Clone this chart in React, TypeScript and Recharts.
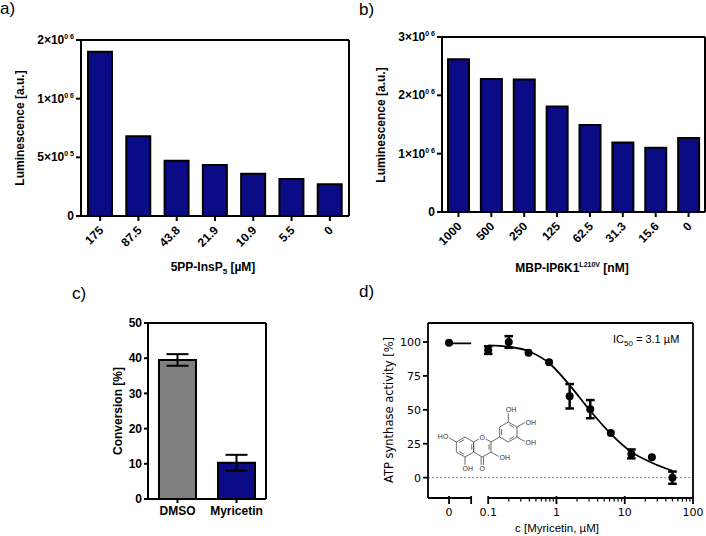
import React from "react";
import {
  Bar,
  BarChart,
  Cell,
  ComposedChart,
  ErrorBar,
  Line,
  ReferenceLine,
  Scatter,
  XAxis,
  YAxis,
} from "recharts";

// ---- panel a: 5PP-InsP5 titration
const concA = ["175", "87.5", "43.8", "21.9", "10.9", "5.5", "0"];
const lumA = [1.4e6, 6.8e5, 4.7e5, 4.35e5, 3.6e5, 3.15e5, 2.7e5];
const yTicksA = [0, 5e5, 1e6, 1.5e6];
const yLabelsA = [["0", ""], ["5×10", "0 5"], ["1×10", "0 6"], ["2×10", "0 6"]];

// ---- panel b: MBP-IP6K1 L210V titration
const concB = ["1000", "500", "250", "125", "62.5", "31.3", "15.6", "0"];
const lumB = [2.62e6, 2.28e6, 2.27e6, 1.81e6, 1.49e6, 1.19e6, 1.1e6, 1.27e6];
const yTicksB = [0, 1e6, 2e6, 3e6];
const yLabelsB = [["0", ""], ["1×10", "0 6"], ["2×10", "0 6"], ["3×10", "0 6"]];

// ---- panel c: conversion
const groupsC = ["DMSO", "Myricetin"];
const conversionC = [39.5, 10.3];
const conversionErrC = [1.65, 2.25];
const colorsC = ["#7f7f7f", "#0b0b85"];

// ---- panel d: dose response
const concD = [0, 0.1, 0.2, 0.39, 0.78, 1.56, 3.125, 6.25, 12.5, 25, 50];
const activityD = [99.5, 94, 100, 92, 85, 60, 50.5, 33, 17.5, 15, 0];
const activityErrD = [0, 2.8, 4.3, 0, 0, 9, 6.7, 0, 3.3, 0, 4.5];
const fitConcD = [0.1, 0.2, 0.4, 0.8, 1.6, 3.1, 6.2, 12.5, 25, 50];
const fitActivityD = [97.5, 96.5, 93, 84, 67.5, 49.5, 32.5, 19, 11, 5];
const topPlateauD = 99;
const majorTicksD = [0, 0.1, 1, 10, 100];
const minorTicksD = [0.2, 0.3, 0.4, 0.5, 0.6, 0.7, 0.8, 0.9, 2, 3, 4, 5, 6, 7, 8, 9, 20, 30, 40, 50, 60, 70, 80, 90];

const NAVY = "#0b0b85";
const BOLD = "'Liberation Sans', Arial, Helvetica, sans-serif";
const SANS = "'DejaVu Sans', Verdana, sans-serif";
const axisBold = { stroke: "#000", strokeWidth: 2 };
const axisThin = { stroke: "#000", strokeWidth: 1.8 };

// x position of the "0" point and the axis break on the log axis (in log10 units)
const ZERO_POS = -1.574;
const BREAK_END = -1.25;
const AXIS_MIN = -1.882;
const Y_MIN_D = -15;
const Y_MAX_D = 114;

const xPos = (c: number) => (c === 0 ? ZERO_POS : Math.log10(c));

const dataA = concA.map((c, i) => ({ conc: c, lum: lumA[i] }));
const dataB = concB.map((c, i) => ({ conc: c, lum: lumB[i] }));
const dataC = groupsC.map((g, i) => ({ group: g, conv: conversionC[i], err: conversionErrC[i] }));
const pointsD = concD.map((c, i) => ({ lx: xPos(c), y: activityD[i], err: activityErrD[i] }));
const fitD = fitConcD.map((c, i) => ({ lx: xPos(c), y: fitActivityD[i] }));
const plateauD = [
  { lx: ZERO_POS, y: topPlateauD },
  { lx: BREAK_END, y: topPlateauD },
];
const ticksD = [...majorTicksD.map(xPos), BREAK_END, ...minorTicksD.map(xPos)];

function SciTick(props: any) {
  const { x, y, payload, ticks, labels } = props;
  const i = ticks.indexOf(payload.value);
  const [m, e] = labels[i] || [String(payload.value), ""];
  return (
    <text x={x} y={y} dy={4} textAnchor="end" fontSize={12} fontWeight={700} fontFamily={BOLD} fill="#000">
      {m}
      {e ? (
        <tspan dy={-5} fontSize={7}>
          {e}
        </tspan>
      ) : null}
    </text>
  );
}

function SlantTick({ x, y, payload }: any) {
  const tx = x + 4;
  const ty = y + 8;
  return (
    <text
      x={tx}
      y={ty}
      transform={`rotate(-45, ${tx}, ${ty})`}
      textAnchor="end"
      fontSize={12}
      fontWeight={700}
      fontFamily={BOLD}
      fill="#000"
    >
      {payload.value}
    </text>
  );
}

function CatTick({ x, y, payload }: any) {
  return (
    <text x={x} y={y} dy={10} textAnchor="middle" fontSize={12} fontWeight={700} fontFamily={BOLD} fill="#000">
      {payload.value}
    </text>
  );
}

function LogTick({ x, y, payload }: any) {
  const v = payload.value;
  const idx = majorTicksD.map(xPos).indexOf(v);
  if (idx >= 0 || v === BREAK_END) {
    return (
      <g>
        <line x1={x} x2={x} y1={y - 2} y2={y + 6} stroke="#000" strokeWidth={1.8} />
        {idx >= 0 && (
          <text x={x} y={y + 18} textAnchor="middle" fontSize={11} fontFamily={SANS} fill="#000">
            {String(majorTicksD[idx])}
          </text>
        )}
      </g>
    );
  }
  return <line x1={x} x2={x} y1={y} y2={y + 3.5} stroke="#000" strokeWidth={1.2} />;
}

function Dot({ cx, cy }: any) {
  return <circle cx={cx} cy={cy} r={4} fill="#000" />;
}

// myricetin skeleton, drawn in page coordinates
function hex(cx: number, cy: number, b: number) {
  return [-90, -30, 30, 90, 150, 210].map((a) => [cx + b * Math.cos((a * Math.PI) / 180), cy + b * Math.sin((a * Math.PI) / 180)]);
}

function Molecule() {
  const b = 10;
  const A = hex(465, 447, b);
  const C = hex(465 + b * Math.sqrt(3), 447, b);
  const c1 = [C[1][0] + b * 0.866, C[1][1] - b * 0.5];
  const B = hex(c1[0] + b * 0.866, c1[1] - b * 0.5, b);
  const seg = (p: number[], q: number[], k: string) => <line key={k} x1={p[0]} y1={p[1]} x2={q[0]} y2={q[1]} />;
  const inner = (ring: number[][], i: number, j: number, cx: number, cy: number, k: string) => {
    const p = ring[i];
    const q = ring[j];
    const f = 0.22;
    const t = 0.15;
    const P = [p[0] + (cx - p[0]) * f, p[1] + (cy - p[1]) * f];
    const Q = [q[0] + (cx - q[0]) * f, q[1] + (cy - q[1]) * f];
    const P2 = [P[0] + (Q[0] - P[0]) * t, P[1] + (Q[1] - P[1]) * t];
    const Q2 = [Q[0] + (P[0] - Q[0]) * t, Q[1] + (P[1] - Q[1]) * t];
    return seg(P2, Q2, k);
  };
  const ringLines = (R: number[][], p: string) => R.map((v, i) => seg(v, R[(i + 1) % 6], p + i));
  const Ac = [465, 447];
  const Cc = [465 + b * Math.sqrt(3), 447];
  const Bc = [c1[0] + b * 0.866, c1[1] - b * 0.5];
  const lbl = { fontSize: 7, fontFamily: BOLD, fill: "#333", stroke: "#fff", strokeWidth: 2.5, paintOrder: "stroke" as const };
  return (
    <g>
      <g stroke="#444" strokeWidth={0.8}>
        {ringLines(A, "a")}
        {ringLines(C, "c")}
        {ringLines(B, "b")}
        {inner(A, 5, 0, Ac[0], Ac[1], "ia1")}
        {inner(A, 3, 4, Ac[0], Ac[1], "ia2")}
        {inner(A, 1, 2, Ac[0], Ac[1], "ia3")}
        {inner(C, 1, 2, Cc[0], Cc[1], "ic1")}
        {inner(B, 0, 1, Bc[0], Bc[1], "ib1")}
        {inner(B, 2, 3, Bc[0], Bc[1], "ib2")}
        {inner(B, 4, 5, Bc[0], Bc[1], "ib3")}
        {seg(C[1], c1, "l1")}
        {seg(A[5], [A[5][0] - 8.66, A[5][1] - 5], "s1")}
        {seg(A[3], [A[3][0], A[3][1] + 9], "s2")}
        {seg([C[3][0] - 1.2, C[3][1]], [C[3][0] - 1.2, C[3][1] + 9], "s3")}
        {seg([C[3][0] + 1.2, C[3][1]], [C[3][0] + 1.2, C[3][1] + 9], "s4")}
        {seg(C[2], [C[2][0] + 8.66, C[2][1] + 5], "s5")}
        {seg(B[0], [B[0][0], B[0][1] - 9], "s6")}
        {seg(B[1], [B[1][0] + 8.66, B[1][1] - 5], "s7")}
        {seg(B[2], [B[2][0] + 8.66, B[2][1] + 5], "s8")}
      </g>
      <text x={C[0][0]} y={C[0][1] + 2.5} textAnchor="middle" {...lbl}>O</text>
      <text x={A[5][0] - 8} y={A[5][1] - 3} textAnchor="end" {...lbl}>HO</text>
      <text x={A[3][0] - 2.5} y={A[3][1] + 14} {...lbl}>OH</text>
      <text x={C[3][0]} y={C[3][1] + 14} textAnchor="middle" {...lbl}>O</text>
      <text x={C[2][0] + 8.5} y={C[2][1] + 8} {...lbl}>OH</text>
      <text x={B[0][0] - 2.5} y={B[0][1] - 10} {...lbl}>OH</text>
      <text x={B[1][0] + 8.5} y={B[1][1] - 2.5} {...lbl}>OH</text>
      <text x={B[2][0] + 8.5} y={B[2][1] + 7.5} {...lbl}>OH</text>
    </g>
  );
}

// closes the plot box on the top and right side of a bar panel (1px axes, no ticks)
function frameAxes() {
  return [
    <XAxis key="ft" xAxisId="top" orientation="top" height={1} tick={false} tickLine={false} axisLine={axisBold} />,
    <YAxis key="fr" yAxisId="right" orientation="right" width={1} tick={false} tickLine={false} axisLine={axisBold} />,
  ];
}

export default function App() {
  return (
    <div style={{ position: "absolute", left: 0, top: 0, width: 706, height: 536, background: "#fff" }}>
      {/* a */}
      <div style={{ position: "absolute", left: 0, top: 0 }}>
        <BarChart width={355} height={290} data={dataA} margin={{ top: 39, right: 5, bottom: 0, left: 0 }}>
          <XAxis dataKey="conc" height={74} interval={0} tickSize={5} tickMargin={2} axisLine={axisBold} tickLine={axisBold} tick={<SlantTick />} />
          <YAxis width={81} domain={[0, 1.5e6]} ticks={yTicksA} interval={0} tickSize={5} tickMargin={2} axisLine={axisBold} tickLine={axisBold} tick={<SciTick ticks={yTicksA} labels={yLabelsA} />} />
          {frameAxes()}
          <Bar dataKey="lum" barSize={24} fill={NAVY} stroke="#000" strokeWidth={2} isAnimationActive={false} />
        </BarChart>
      </div>

      {/* b */}
      <div style={{ position: "absolute", left: 353, top: 0 }}>
        <BarChart width={353} height={290} data={dataB} margin={{ top: 36, right: 0, bottom: 0, left: 0 }}>
          <XAxis dataKey="conc" height={78} interval={0} tickSize={5} tickMargin={2} axisLine={axisBold} tickLine={axisBold} tick={<SlantTick />} />
          <YAxis width={89} domain={[0, 3e6]} ticks={yTicksB} interval={0} tickSize={5} tickMargin={2} axisLine={axisBold} tickLine={axisBold} tick={<SciTick ticks={yTicksB} labels={yLabelsB} />} />
          {frameAxes()}
          <Bar dataKey="lum" barSize={21} fill={NAVY} stroke="#000" strokeWidth={2} isAnimationActive={false} />
        </BarChart>
      </div>

      {/* c */}
      <div style={{ position: "absolute", left: 60, top: 300 }}>
        <BarChart width={215} height={230} data={dataC} margin={{ top: 22, right: 8, bottom: 0, left: 0 }}>
          <XAxis dataKey="group" height={31} interval={0} tickSize={4} tickMargin={2} axisLine={axisBold} tickLine={axisBold} tick={<CatTick />} />
          <YAxis width={88} domain={[0, 50]} ticks={[0, 10, 20, 30, 40, 50]} interval={0} tickSize={4} tickMargin={2} axisLine={axisBold} tickLine={axisBold} tick={{ fontSize: 12, fontWeight: 700, fontFamily: BOLD, fill: "#000" }} />
          {frameAxes()}
          <Bar dataKey="conv" barSize={37} stroke="#000" strokeWidth={2} isAnimationActive={false}>
            {dataC.map((d, i) => (
              <Cell key={d.group} fill={colorsC[i]} />
            ))}
            <ErrorBar dataKey="err" width={11} stroke="#000" strokeWidth={2} />
          </Bar>
        </BarChart>
      </div>

      {/* d */}
      <div style={{ position: "absolute", left: 300, top: 300 }}>
        <ComposedChart width={406} height={236} margin={{ top: 23, right: 13, bottom: 0, left: 0 }}>
          <XAxis type="number" dataKey="lx" domain={[AXIS_MIN, 2]} allowDataOverflow ticks={ticksD} interval={0} height={38} axisLine={false} tickLine={false} tickSize={0} tickMargin={0} tick={<LogTick />} />
          <YAxis type="number" domain={[Y_MIN_D, Y_MAX_D]} ticks={[0, 25, 50, 75, 100]} interval={0} width={128} tickSize={5} tickMargin={2} axisLine={axisThin} tickLine={axisThin} tick={{ fontSize: 11, fontFamily: SANS, fill: "#000" }} />
          <ReferenceLine y={0} stroke="#8a8a8a" strokeDasharray="2 2" strokeWidth={1} />
          <ReferenceLine y={Y_MAX_D} stroke="#000" strokeWidth={1.8} />
          <ReferenceLine x={2} stroke="#000" strokeWidth={1.8} />
          <ReferenceLine segment={[{ x: AXIS_MIN, y: Y_MIN_D }, { x: BREAK_END, y: Y_MIN_D }]} stroke="#000" strokeWidth={1.8} ifOverflow="visible" />
          <ReferenceLine segment={[{ x: -1, y: Y_MIN_D }, { x: 2, y: Y_MIN_D }]} stroke="#000" strokeWidth={1.8} ifOverflow="visible" />
          <Line data={fitD} dataKey="y" type="monotone" stroke="#000" strokeWidth={1.8} dot={false} isAnimationActive={false} />
          <Line data={plateauD} dataKey="y" type="linear" stroke="#000" strokeWidth={1.8} dot={false} isAnimationActive={false} />
          <Scatter data={pointsD} dataKey="y" fill="#000" shape={<Dot />} isAnimationActive={false}>
            <ErrorBar dataKey="err" direction="y" width={4.3} stroke="#000" strokeWidth={2.5} />
          </Scatter>
        </ComposedChart>
      </div>

      {/* labels and titles */}
      <svg width={706} height={536} style={{ position: "absolute", left: 0, top: 0, pointerEvents: "none" }}>
        <g fontFamily={BOLD} fontSize={17} fill="#000">
          <text x={0} y={14}>a)</text>
          <text x={359} y={15}>b)</text>
          <text x={72} y={299}>c)</text>
          <text x={359} y={297}>d)</text>
        </g>
        <g fontFamily={BOLD} fontSize={12} fontWeight={700} fill="#000">
          <text transform="translate(24,128) rotate(-90)" textAnchor="middle">Luminescence [a.u.]</text>
          <text transform="translate(385,125) rotate(-90)" textAnchor="middle">Luminescence [a.u.]</text>
          <text transform="translate(121.5,411) rotate(-90)" textAnchor="middle">Conversion [%]</text>
          <text x={213} y={271} textAnchor="middle">
            5PP-InsP<tspan fontSize={8} dy={3}>5</tspan>
            <tspan dy={-3}> [µM]</tspan>
          </text>
          <text x={572} y={272} textAnchor="middle">
            MBP-IP6K1<tspan fontSize={7} dy={-5}>L210V</tspan>
            <tspan dy={5}> [nM]</tspan>
          </text>
        </g>
        <text transform="translate(393,410) rotate(-90)" textAnchor="middle" fontFamily={SANS} fontSize={11.5} fill="#000">
          ATP synthase activity [%]
        </text>
        <text x={557} y={532} textAnchor="middle" fontFamily={BOLD} fontSize={11.5} fill="#000">
          c [Myricetin, µM]
        </text>
        <text x={613} y={343} fontFamily={BOLD} fontSize={11} fill="#000">
          IC<tspan fontSize={8} dy={3}>50</tspan>
          <tspan dy={-3}> = 3.1 µM</tspan>
        </text>
        <Molecule />
      </svg>
    </div>
  );
}
